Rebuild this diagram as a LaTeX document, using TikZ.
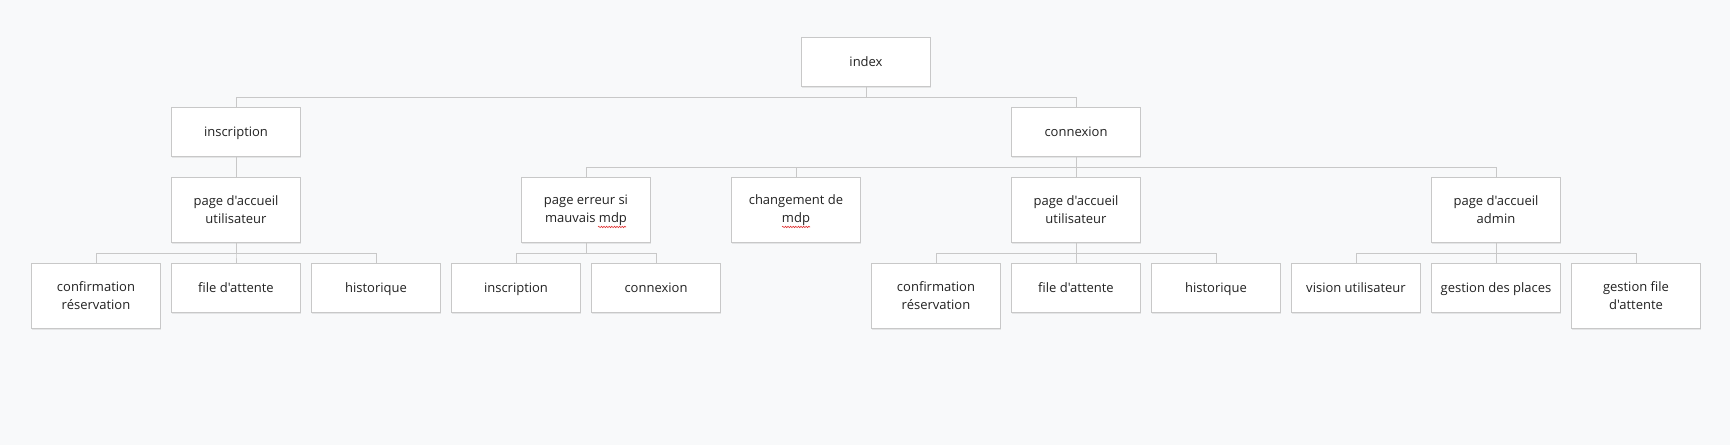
\documentclass[tikz,border=0pt]{standalone}
\usepackage{fontspec}
\newfontfamily\uifont{Open Sans}
\usetikzlibrary{shadows, decorations.pathmorphing}
\definecolor{bg}{HTML}{F8F9FA}
\definecolor{edge}{HTML}{C8C8C8}
\definecolor{txt}{HTML}{222222}
\definecolor{squig}{HTML}{E03030}

\begin{document}
\begin{tikzpicture}[x=1pt, y=-1pt,
    box/.style={draw=edge, fill=white, line width=0.9pt, anchor=north,
      minimum width=129pt, inner sep=0pt,
      align=center, text=txt, font=\uifont\fontsize{13}{18}\selectfont,
      drop shadow={shadow xshift=0pt, shadow yshift=-2pt, opacity=0.08, fill=black}},
    page/.style={box, minimum height=49pt, text height=12.5pt, text depth=3pt},
    tall/.style={box, minimum height=65pt},
    link/.style={draw=edge, line width=0.9pt},
    typo/.style={draw=squig, line width=0.6pt, decorate,
      decoration={snake, amplitude=0.7pt, segment length=2.6pt}}]
    \fill[bg] (0,0) rectangle (1730,445);
    \useasboundingbox (0,0) rectangle (1730,445);

    % level 0 and 1
    \node[page] (index) at (866,37) {index};
    \node[page] (inscription) at (236,107) {inscription};
    \node[page] (connexion) at (1076,107) {connexion};

    % level 2
    \node[tall] (accueil1) at (236,177) {page d'accueil\\utilisateur};
    \node[tall] (erreur) at (586,177) {page erreur si\\mauvais mdp};
    \node[tall] (changement) at (796,177) {changement de\\mdp};
    \node[tall] (accueil2) at (1076,177) {page d'accueil\\utilisateur};
    \node[tall] (admin) at (1496,177) {page d'accueil\\admin};

    % level 3
    \node[tall] (confirm1) at (96,263) {confirmation\\réservation};
    \node[page] (file1) at (236,263) {file d'attente};
    \node[page] (histo1) at (376,263) {historique};
    \node[page] (inscription2) at (516,263) {inscription};
    \node[page] (connexion2) at (656,263) {connexion};
    \node[tall] (confirm2) at (936,263) {confirmation\\réservation};
    \node[page] (file2) at (1076,263) {file d'attente};
    \node[page] (histo2) at (1216,263) {historique};
    \node[page] (vision) at (1356,263) {vision utilisateur};
    \node[page] (places) at (1496,263) {gestion des places};
    \node[tall] (gestfile) at (1636,263) {gestion file\\d'attente};

    % spell-check marks under mdp
    \draw[typo] (erreur.center) ++(12,17) -- ++(28,0);
    \draw[typo] (changement.center) ++(-14,17) -- ++(28,0);

    % connectors
    \foreach \c in {inscription, connexion}
      \draw[link] (index.south) -- ++(0,11) -| (\c.north);
    \draw[link] (inscription.south) -- (accueil1.north);
    \foreach \c in {erreur, changement, accueil2, admin}
      \draw[link] (connexion.south) -- ++(0,11) -| (\c.north);
    \foreach \c in {confirm1, file1, histo1}
      \draw[link] (accueil1.south) -- ++(0,11) -| (\c.north);
    \foreach \c in {inscription2, connexion2}
      \draw[link] (erreur.south) -- ++(0,11) -| (\c.north);
    \foreach \c in {confirm2, file2, histo2}
      \draw[link] (accueil2.south) -- ++(0,11) -| (\c.north);
    \foreach \c in {vision, places, gestfile}
      \draw[link] (admin.south) -- ++(0,11) -| (\c.north);
\end{tikzpicture}
\end{document}
